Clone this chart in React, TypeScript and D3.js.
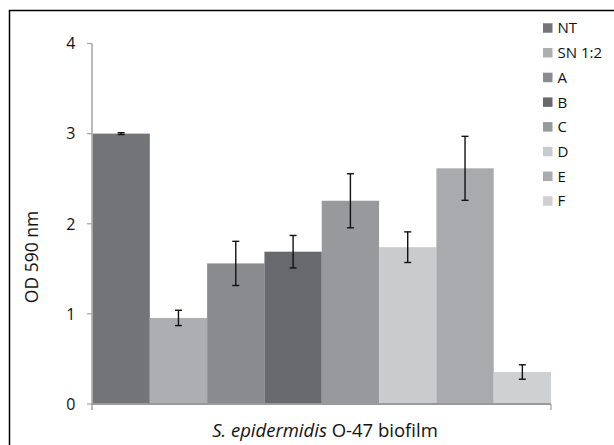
import React from "react";
import * as d3 from "d3";

const seriesNames = ["NT", "SN 1:2", "A", "B", "C", "D", "E", "F"];
const seriesValues = [3.0, 0.955, 1.56, 1.69, 2.255, 1.74, 2.615, 0.355];
const seriesErrors = [0.01, 0.085, 0.245, 0.18, 0.3, 0.17, 0.355, 0.08];
const seriesColors = ["#737478", "#adaeb1", "#8a8b8f", "#68696d", "#98999d", "#cacbcd", "#a9aaad", "#cfd0d2"];
const yTicks = [0, 1, 2, 3, 4];
const categoryLabel = "biofilm";

const W = 614;
const H = 445;
const FONT = "'Open Sans', 'DejaVu Sans', sans-serif";

export default function App() {
  const x = d3.scaleBand<string>().domain(seriesNames).range([92.5, 551]).paddingInner(0).paddingOuter(0);
  const y = d3.scaleLinear().domain([0, 4]).range([404, 43.5]);
  const legendY = d3.scalePoint<string>().domain(seriesNames).range([28, 201]);
  const capW = 3.5;

  return (
    <svg width={W} height={H} style={{ position: "absolute", left: 0, top: 0, background: "#fff" }} fontFamily={FONT}>
      <rect x={0} y={0} width={W} height={H} fill="#fff" />
      <rect x={9.5} y={10.5} width={W + 20} height={H + 20} fill="none" stroke="#000" strokeWidth={1.5} />

      {seriesNames.map((s, i) => (
        <rect key={s} x={x(s)!} y={y(seriesValues[i])} width={x.bandwidth()} height={y(0) - y(seriesValues[i])} fill={seriesColors[i]} />
      ))}

      {/* y axis */}
      <line x1={92} x2={92} y1={y(4)} y2={y(0) + 6} stroke="#a3a3a3" strokeWidth={1.5} />
      {yTicks.map((t) => (
        <g key={t}>
          <line x1={87} x2={92} y1={y(t)} y2={y(t)} stroke="#a3a3a3" strokeWidth={1.2} />
          <text x={75.5} y={y(t)} dy="0.36em" textAnchor="end" fontSize={16} fill="#111">
            {t}
          </text>
        </g>
      ))}
      {/* x axis */}
      <line x1={92} x2={551} y1={y(0)} y2={y(0)} stroke="#9a9a9a" strokeWidth={2} />
      <line x1={551} x2={551} y1={y(0)} y2={y(0) + 6} stroke="#9a9a9a" strokeWidth={1.2} />

      {/* error bars */}
      {seriesNames.map((s, i) => {
        const cx = x(s)! + x.bandwidth() / 2;
        const top = y(seriesValues[i] + seriesErrors[i]);
        const bot = y(seriesValues[i] - seriesErrors[i]);
        return (
          <g key={s} stroke="#111" strokeWidth={1.4}>
            <line x1={cx} x2={cx} y1={top} y2={bot} />
            <line x1={cx - capW} x2={cx + capW} y1={top} y2={top} />
            <line x1={cx - capW} x2={cx + capW} y1={bot} y2={bot} />
          </g>
        );
      })}

      {/* axis titles */}
      <text transform="translate(38,257) rotate(-90)" textAnchor="middle" fontSize={17.5} fill="#111">
        OD 590 nm
      </text>
      <text x={325} y={437} textAnchor="middle" fontSize={18.5} fill="#111">
        <tspan fontStyle="italic">S. epidermidis</tspan> O-47 {categoryLabel}
      </text>

      {/* legend */}
      {seriesNames.map((s, i) => (
        <g key={s}>
          <rect x={543} y={legendY(s)! - 4.75} width={9.5} height={9.5} fill={seriesColors[i]} />
          <text x={557.5} y={legendY(s)!} dy="0.36em" fontSize={15} fill="#111">
            {s}
          </text>
        </g>
      ))}
    </svg>
  );
}
